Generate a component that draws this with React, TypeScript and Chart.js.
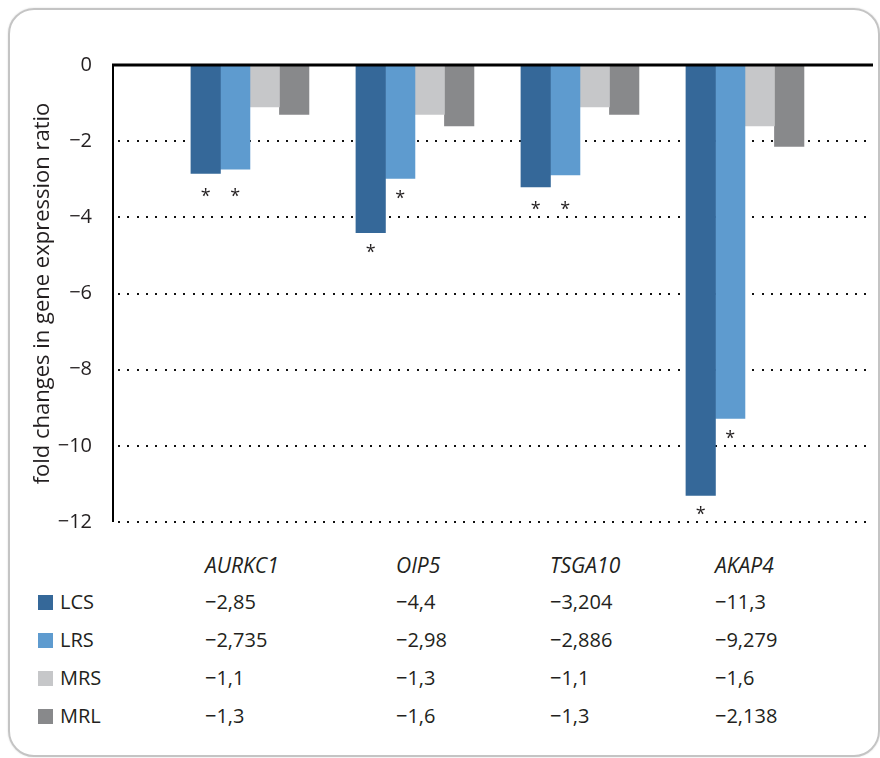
import React, { useEffect, useRef } from "react";
import { Chart, registerables } from "chart.js";

Chart.register(...registerables);

const genes = ["AURKC1", "OIP5", "TSGA10", "AKAP4"];
const seriesNames = ["LCS", "LRS", "MRS", "MRL"];
const lcs = [-2.85, -4.4, -3.204, -11.3];
const lrs = [-2.735, -2.98, -2.886, -9.279];
const mrs = [-1.1, -1.3, -1.1, -1.6];
const mrl = [-1.3, -1.6, -1.3, -2.138];
const sigLCS = [true, true, true, true];
const sigLRS = [true, true, true, true];
const yTickValues = [0, -2, -4, -6, -8, -10, -12];
const yTitle = "fold changes in gene expression ratio";

const seriesValues = [lcs, lrs, mrs, mrl];
const seriesSig = [sigLCS, sigLRS];
const colors = ["#356899", "#5e9bcf", "#c6c7c9", "#88898b"];

const FONT = "'Open Sans', 'DejaVu Sans', sans-serif";
const TEXT = "#231f20";

const fmt = (v: number) => (v < 0 ? "\u2212" : "") + String(Math.abs(v)).replace(".", ",");

const overlayPlugin = {
  id: "overlay",
  beforeDatasetsDraw(chart: any) {
    const { ctx, chartArea, scales } = chart;
    const y = scales.y;
    ctx.save();
    ctx.fillStyle = "#111";
    yTickValues.forEach((v) => {
      if (v === 0) return;
      const py = Math.round(y.getPixelForValue(v));
      for (let x = chartArea.left + 6; x < chartArea.right - 1; x += 9.33) {
        ctx.fillRect(Math.round(x), py - 1, 2, 2);
      }
    });
    ctx.restore();
  },
  afterDatasetsDraw(chart: any) {
    const { ctx, chartArea, scales } = chart;
    const y = scales.y;
    const y0 = y.getPixelForValue(0);
    const yMin = y.getPixelForValue(-12);
    ctx.save();
    ctx.strokeStyle = "#000";
    ctx.lineWidth = 2;
    ctx.beginPath();
    ctx.moveTo(chartArea.left + 1, y0);
    ctx.lineTo(chartArea.left + 1, yMin);
    ctx.stroke();
    ctx.lineWidth = 3;
    ctx.beginPath();
    ctx.moveTo(chartArea.left, y0);
    ctx.lineTo(chartArea.right, y0);
    ctx.stroke();
    // asterisks
    ctx.fillStyle = TEXT;
    ctx.font = `18px ${FONT}`;
    ctx.textAlign = "center";
    ctx.textBaseline = "middle";
    const m0 = chart.getDatasetMeta(0).data;
    const m1 = chart.getDatasetMeta(1).data;
    for (let i = 0; i < genes.length; i++) {
      const a = m0[i];
      const b = m1[i];
      let ya = a.y + 18;
      let yb = b.y + 18;
      if (Math.abs(a.y - b.y) < 20) {
        const lo = Math.max(a.y, b.y) + 21;
        ya = lo;
        yb = lo;
      }
      if (seriesSig[0][i]) ctx.fillText("*", a.x, ya + 2);
      if (seriesSig[1][i]) ctx.fillText("*", b.x, yb + 2);
    }
    ctx.restore();
  },
};

function ChartCanvas() {
  const ref = useRef<HTMLCanvasElement | null>(null);
  useEffect(() => {
    if (!ref.current) return;
    const chart = new Chart(ref.current, {
      type: "bar",
      data: {
        datasets: seriesNames.map((name, s) => ({
          label: name,
          data: seriesValues[s].map((v, i) => ({ x: i, y: v })),
          backgroundColor: colors[s],
          borderWidth: 0,
          barThickness: 29.5,
        })),
      },
      options: {
        responsive: false,
        animation: false,
        devicePixelRatio: 1,
        layout: { padding: { left: 0, top: 65, right: 7, bottom: 18 } },
        plugins: { legend: { display: false }, tooltip: { enabled: false } },
        scales: {
          x: {
            type: "linear",
            display: false,
            offset: false,
            min: -0.836,
            max: 3.776,
          },
          y: {
            min: -12,
            max: 0,
            afterFit: (s: any) => {
              s.width = 112;
            },
            afterBuildTicks: (s: any) => {
              s.ticks = yTickValues.map((v) => ({ value: v }));
            },
            grid: { display: false, drawTicks: true, tickLength: 17, tickColor: "rgba(0,0,0,0)" },
            border: { display: false },
            ticks: {
              padding: 3,
              color: TEXT,
              font: { family: FONT, size: 20 },
              callback: (v: any) => (v === 0 ? "0" : fmt(Number(v))),
            },
            title: {
              display: true,
              text: yTitle,
              color: TEXT,
              font: { family: FONT, size: 22 },
              padding: { top: 30, bottom: 0 },
            },
          },
        },
      },
      plugins: [overlayPlugin],
    } as any);
    return () => chart.destroy();
  }, []);
  return (
    <canvas
      ref={ref}
      width={880}
      height={540}
      style={{ position: "absolute", left: 0, top: 0, width: 880, height: 540 }}
    />
  );
}

const colLefts = [205, 396, 550, 715];
const rowCenters = [565, 602, 640, 678, 716];

export default function App() {
  const textStyle: React.CSSProperties = {
    position: "absolute",
    fontFamily: FONT,
    fontSize: 20,
    color: TEXT,
    lineHeight: "30px",
    height: 30,
    whiteSpace: "nowrap",
  };
  return (
    <div style={{ position: "absolute", left: 0, top: 0, width: 880, height: 758, background: "#fff", overflow: "hidden" }}>
      <div
        style={{
          position: "absolute",
          left: 8,
          top: 8,
          width: 868,
          height: 745,
          border: "2px solid #c4c4c4",
          borderRadius: 26,
          boxShadow: "0 0 2px rgba(0,0,0,0.15)",
        }}
      />
      <ChartCanvas />
      {genes.map((g, i) => (
        <div key={g} style={{ ...textStyle, fontSize: 21, left: colLefts[i], top: rowCenters[0] - 15, fontStyle: "italic" }}>
          {g}
        </div>
      ))}
      {seriesNames.map((name, s) => (
        <React.Fragment key={name}>
          <div
            style={{
              position: "absolute",
              left: 38,
              top: rowCenters[s + 1] - 7.5,
              width: 15,
              height: 15,
              background: colors[s],
            }}
          />
          <div style={{ ...textStyle, left: 60, top: rowCenters[s + 1] - 15 }}>{name}</div>
          {seriesValues[s].map((v, i) => (
            <div key={i} style={{ ...textStyle, left: colLefts[i], top: rowCenters[s + 1] - 15 }}>
              {fmt(v)}
            </div>
          ))}
        </React.Fragment>
      ))}
    </div>
  );
}
